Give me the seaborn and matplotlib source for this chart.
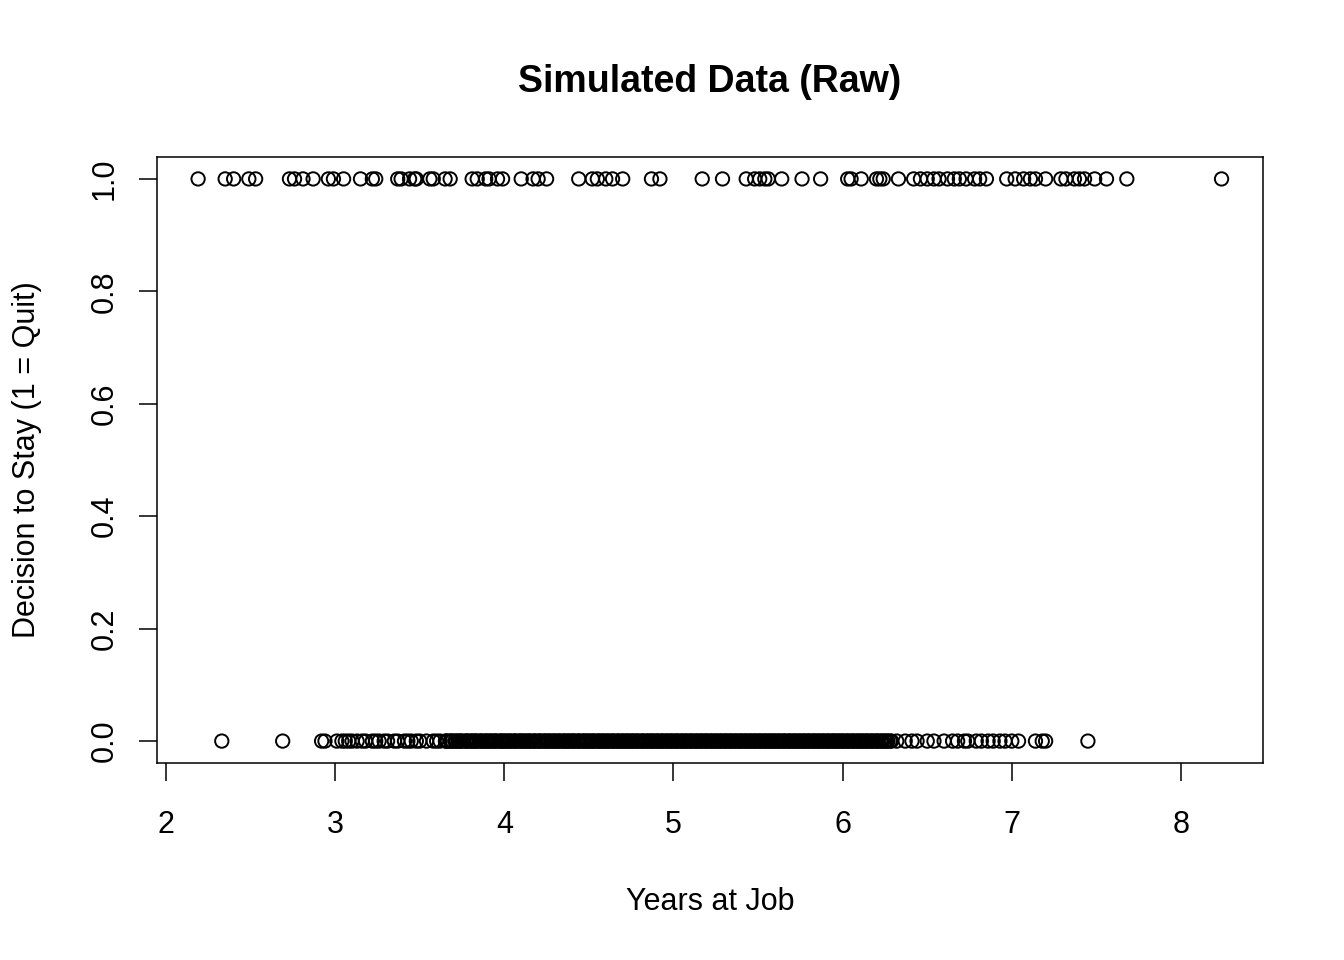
import matplotlib.pyplot as plt
import seaborn as sns
import pandas as pd

# decision == 1 (quit)
years_quit = [
    2.19, 2.35, 2.40, 2.49, 2.53, 2.73, 2.76, 2.81, 2.87, 2.96,
    2.99, 3.05, 3.15, 3.22, 3.24, 3.37, 3.39, 3.44, 3.47, 3.48,
    3.56, 3.58, 3.65, 3.68, 3.81, 3.84, 3.89, 3.91, 3.96, 3.99,
    4.10, 4.17, 4.20, 4.25, 4.44, 4.52, 4.55, 4.60, 4.64, 4.70,
    4.87, 4.92, 5.17, 5.29, 5.43, 5.48, 5.51, 5.54, 5.56, 5.64,
    5.76, 5.87, 6.03, 6.05, 6.11, 6.20, 6.22, 6.24, 6.33, 6.42,
    6.46, 6.50, 6.54, 6.57, 6.62, 6.66, 6.69, 6.73, 6.78, 6.81,
    6.85, 6.97, 7.02, 7.07, 7.11, 7.14, 7.20, 7.29, 7.32, 7.37,
    7.40, 7.43, 7.49, 7.56, 7.68, 8.24,
]

# decision == 0 (stay)
years_stay_low = [
    2.33, 2.69, 2.92, 2.94, 3.01, 3.04, 3.06, 3.08, 3.10, 3.13,
    3.16, 3.18, 3.22, 3.24, 3.26, 3.29, 3.31, 3.35, 3.37, 3.41,
    3.43, 3.45, 3.48, 3.50, 3.54, 3.58, 3.60, 3.62,
]
years_stay_mid = [
    3.652, 3.664, 3.681, 3.693, 3.708, 3.726, 3.737, 3.752, 3.771, 3.783,
    3.796, 3.814, 3.825, 3.839, 3.857, 3.868, 3.884, 3.899, 3.911, 3.929,
    3.942, 3.954, 3.973, 3.986, 3.998, 4.015, 4.027, 4.043, 4.059, 4.070,
    4.088, 4.101, 4.113, 4.131, 4.144, 4.157, 4.174, 4.186, 4.203, 4.214,
    4.232, 4.245, 4.258, 4.275, 4.287, 4.303, 4.318, 4.330, 4.347, 4.361,
    4.373, 4.391, 4.404, 4.416, 4.433, 4.446, 4.462, 4.477, 4.489, 4.506,
    4.519, 4.532, 4.549, 4.563, 4.575, 4.592, 4.605, 4.621, 4.636, 4.648,
    4.665, 4.678, 4.693, 4.709, 4.722, 4.737, 4.751, 4.766, 4.780, 4.794,
    4.811, 4.823, 4.838, 4.855, 4.867, 4.882, 4.897, 4.910, 4.926, 4.939,
    4.953, 4.970, 4.982, 4.997, 5.013, 5.025, 5.041, 5.056, 5.068, 5.085,
    5.099, 5.112, 5.128, 5.143, 5.156, 5.172, 5.186, 5.199, 5.215, 5.230,
    5.243, 5.259, 5.273, 5.287, 5.302, 5.316, 5.331, 5.345, 5.360, 5.374,
    5.389, 5.403, 5.417, 5.432, 5.446, 5.461, 5.475, 5.490, 5.504, 5.518,
    5.533, 5.548, 5.561, 5.577, 5.590, 5.606, 5.619, 5.634, 5.649, 5.662,
    5.678, 5.691, 5.705, 5.721, 5.734, 5.750, 5.763, 5.778, 5.793, 5.806,
    5.822, 5.835, 5.849, 5.865, 5.878, 5.893, 5.908, 5.921, 5.937, 5.950,
    5.964, 5.980, 5.993, 6.008, 6.023, 6.036, 6.052, 6.065, 6.080, 6.095,
    6.108, 6.124, 6.137, 6.151, 6.167, 6.180, 6.196, 6.209, 6.224, 6.239,
    6.252, 6.268, 6.281,
]
# second batch of stay values in the crowded middle band
years_stay_mid_b = [
    3.659, 3.687, 3.716, 3.745, 3.776, 3.805, 3.832, 3.862, 3.891, 3.920,
    3.948, 3.979, 4.006, 4.035, 4.064, 4.094, 4.122, 4.150, 4.180, 4.209,
    4.238, 4.266, 4.296, 4.324, 4.354, 4.382, 4.410, 4.440, 4.469, 4.497,
    4.526, 4.556, 4.584, 4.613, 4.642, 4.671, 4.700, 4.729, 4.758, 4.787,
    4.816, 4.846, 4.874, 4.903, 4.932, 4.961, 4.990, 5.019, 5.048, 5.077,
    5.106, 5.135, 5.164, 5.193, 5.222, 5.251, 5.280, 5.309, 5.338, 5.367,
    5.396, 5.425, 5.454, 5.483, 5.511, 5.540, 5.569, 5.598, 5.627, 5.656,
    5.685, 5.713, 5.742, 5.771, 5.800, 5.829, 5.857, 5.886, 5.915, 5.944,
    5.972, 6.001, 6.030, 6.059, 6.088, 6.116, 6.145, 6.174, 6.202, 6.231,
    6.260, 6.289,
]
years_stay_high = [
    6.32, 6.37, 6.41, 6.44, 6.50, 6.54, 6.60, 6.65, 6.68, 6.72,
    6.74, 6.79, 6.82, 6.86, 6.89, 6.93, 6.96, 7.00, 7.04, 7.14,
    7.18, 7.20, 7.45,
]

x_ticks = [2, 3, 4, 5, 6, 7, 8]
y_ticks = [0.0, 0.2, 0.4, 0.6, 0.8, 1.0]
y_tick_labels = ['0.0', '0.2', '0.4', '0.6', '0.8', '1.0']

years_stay = years_stay_low + years_stay_mid + years_stay_mid_b + years_stay_high
df = pd.DataFrame({
    'years': years_quit + years_stay,
    'decision': [1] * len(years_quit) + [0] * len(years_stay),
})

sns.set_style('white')
plt.rcParams['font.family'] = ['Liberation Sans', 'DejaVu Sans']
plt.rcParams['text.color'] = 'black'
plt.rcParams['axes.labelcolor'] = 'black'

fig = plt.figure(figsize=(13.44, 9.6), dpi=100)
ax = fig.add_axes([157 / 1344, 1 - 763 / 960, 1106 / 1344, 606 / 960])

sns.scatterplot(data=df, x='years', y='decision', ax=ax, marker='o',
                s=92, facecolor='none', edgecolor='black', linewidth=1.4,
                legend=False)

ax.set_xlim(1.947, 8.485)
ax.set_ylim(-0.039, 1.039)
ax.set_xticks(x_ticks)
ax.set_xticklabels([str(t) for t in x_ticks])
ax.set_yticks(y_ticks)
ax.set_yticklabels(y_tick_labels, rotation=90, va='center')
ax.tick_params(axis='both', which='major', direction='out', length=13,
               width=1.1, color='black', labelsize=22, labelcolor='black',
               bottom=True, left=True, top=False, right=False)
ax.tick_params(axis='x', pad=21)
ax.tick_params(axis='y', pad=14)
for sp in ax.spines.values():
    sp.set_visible(True)
    sp.set_color('black')
    sp.set_linewidth(1.1)
ax.set_xlabel('')
ax.set_ylabel('')
ax.grid(False)

fig.text(710 / 1344, 1 - 92 / 960, 'Simulated Data (Raw)', ha='center',
         va='baseline', fontsize=27, fontweight='bold', color='black')
fig.text(710 / 1344, 1 - 910 / 960, 'Years at Job', ha='center',
         va='baseline', fontsize=22, color='black')
fig.text(35 / 1344, 1 - 460 / 960, 'Decision to Stay (1 = Quit)',
         ha='center', va='baseline', rotation=90, rotation_mode='anchor',
         fontsize=22, color='black')

fig.savefig('out.png', dpi=100, facecolor='white')
